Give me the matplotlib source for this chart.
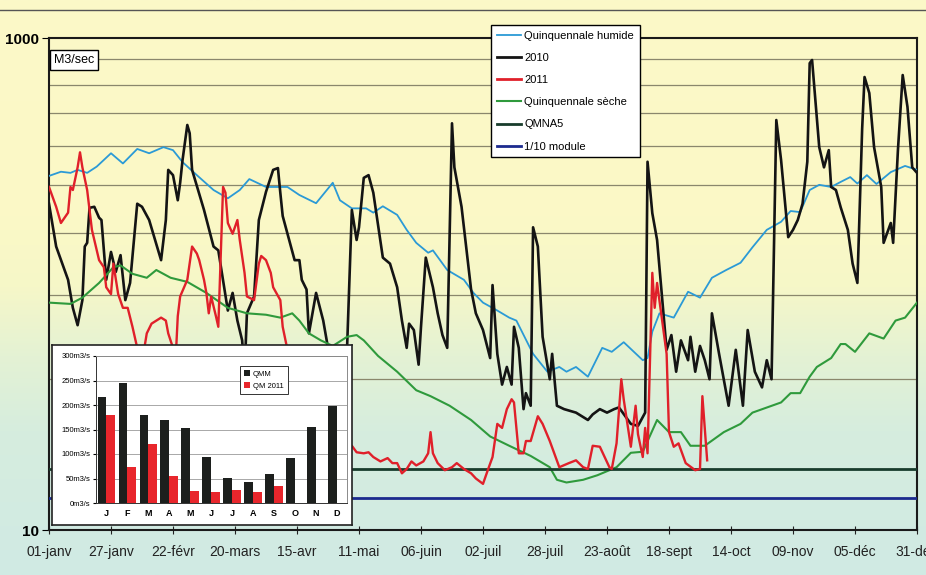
import matplotlib.pyplot as plt
import numpy as np
from matplotlib.lines import Line2D

plt.rcParams['font.family'] = ['Liberation Sans Narrow', 'Liberation Sans', 'DejaVu Sans']

W, H = 926, 575

# x axis: day of year, ticks every 26 days
TICK_DAYS = [0, 26, 52, 78, 104, 130, 156, 182, 208, 234, 260, 286, 312, 338, 364]
TICK_LABELS = ["01-janv", "27-janv", "22-févr", "20-mars", "15-avr", "11-mai", "06-juin",
               "02-juil", "28-juil", "23-août", "18-sept", "14-oct", "09-nov", "05-déc", "31-déc"]
GRID_VALUES = [822, 644, 496, 364, 253, 161, 90, 41]

# Quinquennale humide
DAYS_HUMIDE = [0, 5, 9, 12, 16, 20, 26, 31, 37, 42, 48, 52, 56, 62, 69, 75, 80, 84, 91, 100,
               105, 112, 119, 122, 127, 133, 136, 140, 146, 150, 154, 159, 161, 167, 174, 178, 182, 188, 193, 196,
               203, 209, 214, 217, 221, 226, 232, 236, 241, 249, 251, 253, 256, 262, 268, 273, 278, 284, 290, 295,
               301, 307, 311, 315, 319, 323, 328, 332, 336, 339, 343, 347, 353, 359, 364]
Q_HUMIDE = [275, 286, 283, 291, 283, 300, 340, 309, 354, 340, 360, 350, 313, 277, 241, 223, 241, 267, 248, 248,
            230, 213, 258, 219, 203, 203, 195, 207, 191, 166, 147, 134, 137, 114, 104, 92, 84, 78, 73, 71,
            52, 44, 46, 44, 46, 42, 55, 53, 58, 49, 50, 64, 76, 73, 93, 88, 106, 114, 122, 141,
            166, 179, 198, 196, 241, 253, 248, 260, 272, 256, 277, 255, 285, 302, 291]

# 2010
DAYS_2010 = [0, 3, 8, 10, 12, 14, 15, 16, 17, 19, 21, 22, 24, 26, 28, 30, 32, 34, 37, 39,
             42, 47, 49, 50, 52, 54, 55, 56, 58, 59, 60, 65, 69, 71, 75, 77, 79, 81, 82, 83,
             86, 88, 91, 94, 96, 97, 98, 100, 103, 105, 106, 108, 109, 111, 112, 115, 117, 120, 123, 125,
             127, 129, 130, 132, 134, 136, 140, 143, 146, 148, 150, 151, 153, 155, 156, 158, 161, 163, 165, 167,
             169, 170, 173, 177, 179, 182, 185, 186, 188, 190, 192, 194, 195, 197, 199, 200, 202, 203, 205, 207,
             210, 211, 213, 216, 221, 226, 228, 231, 234, 237, 239, 244, 247, 250, 251, 253, 255, 256, 259, 261,
             263, 265, 268, 269, 271, 273, 275, 277, 278, 281, 285, 288, 291, 293, 296, 299, 301, 303, 305, 307,
             310, 312, 314, 316, 318, 319, 320, 323, 325, 327, 328, 330, 332, 335, 337, 339, 341, 342, 344, 346,
             349, 350, 353, 354, 356, 358, 360, 362, 364]
Q_2010 = [212, 142, 104, 80, 68, 86, 142, 147, 204, 206, 186, 182, 104, 135, 112, 131, 86, 101, 212, 206,
          182, 125, 182, 291, 277, 219, 258, 319, 443, 410, 291, 200, 142, 137, 78, 92, 71, 59, 43, 76,
          89, 182, 237, 291, 296, 235, 189, 160, 125, 125, 104, 95, 63, 81, 92, 71, 55, 34, 34, 55,
          200, 151, 170, 270, 277, 235, 128, 121, 97, 71, 55, 69, 65, 47, 67, 128, 97, 76, 62, 55,
          450, 298, 206, 95, 76, 65, 50, 99, 52, 39, 46, 39, 67, 55, 31, 36, 32, 170, 142, 61,
          41, 52, 32, 31, 30, 28, 29.5, 31, 30, 31, 31.5, 27, 26.5, 30, 314, 194, 151, 117, 54, 62,
          44, 59, 49, 61, 44, 56, 49, 41, 76, 52, 32, 54, 32, 65, 44, 38, 49, 41, 464, 319,
          155, 166, 182, 212, 314, 790, 814, 360, 298, 350, 248, 241, 205, 166, 121, 101, 428, 694, 597, 360,
          248, 147, 177, 147, 350, 707, 525, 298, 283]

# 2011
DAYS_2011 = [0, 3, 5, 8, 9, 10, 12, 13, 14, 16, 17, 18, 21, 23, 24, 26, 27, 29, 31, 33,
             35, 37, 38, 40, 41, 43, 47, 49, 50, 52, 53, 54, 55, 58, 60, 62, 63, 65, 66, 67,
             68, 70, 71, 73, 74, 75, 77, 79, 80, 82, 83, 86, 88, 89, 91, 93, 94, 97, 98, 100,
             105, 118, 127, 129, 132, 134, 136, 139, 142, 144, 146, 148, 150, 152, 154, 157, 159, 160, 161, 163,
             166, 169, 171, 174, 177, 179, 182, 184, 186, 188, 190, 192, 194, 195, 197, 199, 200, 202, 205, 207,
             210, 214, 218, 221, 224, 226, 228, 231, 233, 235, 236, 238, 240, 241, 244, 246, 247, 249, 250, 251,
             253, 254, 255, 259, 260, 262, 264, 267, 271, 273, 274, 276]
Q_2011 = [248, 206, 177, 195, 248, 241, 298, 343, 298, 241, 200, 166, 125, 117, 97, 91, 121, 91, 80, 80,
          67, 55, 41, 55, 63, 69, 73, 71, 63, 55, 47, 74, 89, 104, 142, 133, 125, 104, 92, 76,
          89, 74, 67, 248, 235, 177, 160, 182, 151, 111, 89, 86, 121, 130, 125, 111, 97, 86, 67, 54,
          28, 23, 22, 20.7, 20.5, 20.7, 19.8, 19, 19.6, 18.7, 18.7, 17, 17.7, 19, 18.3, 19, 20.5, 25, 20.5, 18.7,
          17.5, 18, 18.7, 17.7, 17, 16.2, 15.4, 17.5, 19.8, 27, 26, 31, 34, 33, 20.5, 20.5, 23, 23, 29, 27,
          23, 18, 18.7, 19.2, 18, 17.7, 22, 21.8, 19.8, 18, 17.7, 22.5, 41, 34, 21.8, 32, 24.5, 19.8, 26, 20.5,
          111, 80, 101, 52, 25, 21.8, 22.5, 18.7, 17.5, 17.7, 35, 19.2]

# Quinquennale sèche
DAYS_SECHE = [0, 9, 14, 21, 27, 30, 35, 41, 45, 51, 58, 66, 75, 83, 91, 97, 102, 105, 109, 114,
              119, 125, 129, 132, 138, 146, 154, 160, 168, 177, 185, 193, 202, 210, 213, 217, 224, 230, 238, 244,
              249, 255, 260, 265, 269, 275, 283, 290, 295, 307, 311, 315, 319, 322, 328, 332, 334, 338, 344, 350,
              355, 359, 364]
Q_SECHE = [84, 83, 88, 101, 117, 119, 110, 106, 114, 106, 102, 92, 80, 76, 75, 73, 76, 71, 63, 59,
           56, 61, 62, 59, 51, 44, 37, 35, 32, 28, 24, 22, 20, 18, 16, 15.6, 16, 16.7, 18, 20.6,
           20.8, 28, 25, 25, 22, 22, 25, 27, 30, 33, 36, 36, 42, 46, 50, 57, 57, 53, 63, 60,
           71, 73, 84]

QMNA5 = 17.7
MODULE_10 = 13.5

# inset: monthly means
MONTHS = ["J", "F", "M", "A", "M", "J", "J", "A", "S", "O", "N", "D"]
QMM = [216, 244, 179, 170, 153, 94, 52, 42, 59, 92, 156, 198]
QM_2011 = [179, 73, 121, 55, 24, 22, 26, 23, 35]

C_BLUE = "#2b9ad6"
C_BLACK = "#141414"
C_RED = "#e0202a"
C_GREEN = "#2f9a3c"
C_QMNA = "#183c2c"
C_MODULE = "#1c2a8e"


def fx(px):
    return px / W


def fy(py):
    return 1 - py / H


fig = plt.figure(figsize=(W / 100, H / 100), dpi=100)

# scanned paper background: yellow on top, pale cyan at the bottom
bg = fig.add_axes([0, 0, 1, 1], zorder=-10)
stops = [0.0, 0.35, 0.5, 0.62, 0.75, 1.0]
cols = np.array([[251, 248, 200], [252, 249, 198], [246, 247, 200], [228, 242, 212],
                 [214, 237, 222], [208, 234, 228]]) / 255
rows = np.linspace(0, 1, 300)
grad = np.stack([np.interp(rows, stops, cols[:, i]) for i in range(3)], axis=-1)[:, None, :]
bg.imshow(grad, aspect="auto", extent=[0, 1, 0, 1])
bg.axis("off")
bg.axhline(fy(10), xmin=0, xmax=1, color="#555555", lw=1.0)

ax = fig.add_axes([fx(49), fy(530), fx(917) - fx(49), fy(38) - fy(530)])
ax.patch.set_alpha(0)
ax.set_yscale("log")
ax.set_xlim(0, 364)
ax.set_ylim(10, 1000)

for g in GRID_VALUES:
    ax.axhline(g, color="#8a876c", lw=0.9, zorder=1)

ax.plot(DAYS_HUMIDE, Q_HUMIDE, color=C_BLUE, lw=1.3, zorder=3)
ax.plot(DAYS_2010, Q_2010, color=C_BLACK, lw=1.9, zorder=4)
ax.plot(DAYS_2011, Q_2011, color=C_RED, lw=1.7, zorder=5)
ax.plot(DAYS_SECHE, Q_SECHE, color=C_GREEN, lw=1.5, zorder=4)
ax.axhline(QMNA5, color=C_QMNA, lw=2.0, zorder=4)
ax.axhline(MODULE_10, color=C_MODULE, lw=2.0, zorder=4)

ax.set_xticks(TICK_DAYS)
ax.set_xticklabels(TICK_LABELS, fontsize=10)
ax.set_yticks([10, 1000])
ax.set_yticklabels(["10", "1000"], fontsize=11, fontweight="bold")
ax.yaxis.set_minor_locator(plt.NullLocator())
ax.tick_params(axis="x", direction="inout", length=6, pad=8, colors="#222222")
ax.tick_params(axis="y", direction="out", length=5, pad=2)
for s in ax.spines.values():
    s.set_linewidth(1.5)
    s.set_color("#1a1a1a")

fig.text(fx(74), fy(60), "M3/sec", ha="center", va="center", fontsize=9,
         bbox=dict(boxstyle="square,pad=0.3", fc="white", ec="black", lw=1.0))

handles = [
    Line2D([], [], color=C_BLUE, lw=1.3),
    Line2D([], [], color=C_BLACK, lw=2),
    Line2D([], [], color=C_RED, lw=2),
    Line2D([], [], color=C_GREEN, lw=1.5),
    Line2D([], [], color=C_QMNA, lw=2),
    Line2D([], [], color=C_MODULE, lw=2),
]
labels = ["Quinquennale humide", "2010", "2011", "Quinquennale sèche", "QMNA5", "1/10 module"]
leg = fig.legend(handles, labels, loc="upper left", bbox_to_anchor=(fx(491), fy(25)),
                 fontsize=8, frameon=True, fancybox=False, edgecolor="black", framealpha=1,
                 handlelength=2.2, handletextpad=0.3, labelspacing=1.1, borderpad=0.5,
                 borderaxespad=0)
leg.get_frame().set_linewidth(1.0)
leg.set_zorder(20)

# inset bar chart
box = fig.add_axes([fx(52), fy(525), fx(352) - fx(52), fy(345) - fy(525)], zorder=10)
box.set_facecolor("white")
box.set_xticks([])
box.set_yticks([])
for s in box.spines.values():
    s.set_linewidth(1.2)
    s.set_color("#222222")

ins = fig.add_axes([fx(96), fy(503), fx(347) - fx(96), fy(356) - fy(503)], zorder=11)
ins.set_facecolor("white")
xm = np.arange(len(MONTHS))
ins.bar(xm - 0.21, QMM, width=0.42, color="#1c1f1d", label="QMM", zorder=3)
ins.bar(xm[:len(QM_2011)] + 0.21, QM_2011, width=0.42, color="#e8262c", label="QM 2011", zorder=3)
ins.set_xlim(-0.5, 11.5)
ins.set_ylim(0, 300)
ins.set_yticks(range(0, 301, 50))
ins.set_yticklabels([f"{v}m3/s" for v in range(0, 301, 50)], fontsize=5.5)
ins.set_xticks(xm)
ins.set_xticklabels(MONTHS, fontsize=6.5, fontweight="bold")
ins.tick_params(axis="x", length=0, pad=4)
ins.tick_params(axis="y", length=2, pad=2)
ins.grid(axis="y", color="#9a9a9a", lw=0.6, zorder=0)
for s in ins.spines.values():
    s.set_color("#8a8a8a")
    s.set_linewidth(0.7)
ins.spines["left"].set_color("#333333")
ins.spines["bottom"].set_color("#333333")
il = ins.legend(loc="upper left", bbox_to_anchor=(0.574, 0.93), fontsize=5.5, frameon=True,
                fancybox=False, edgecolor="#333333", framealpha=1, handlelength=0.8,
                handleheight=0.8, handletextpad=0.4, borderpad=0.5, labelspacing=0.6,
                borderaxespad=0)
il.get_frame().set_linewidth(0.7)

fig.savefig("out.png", dpi=100)
